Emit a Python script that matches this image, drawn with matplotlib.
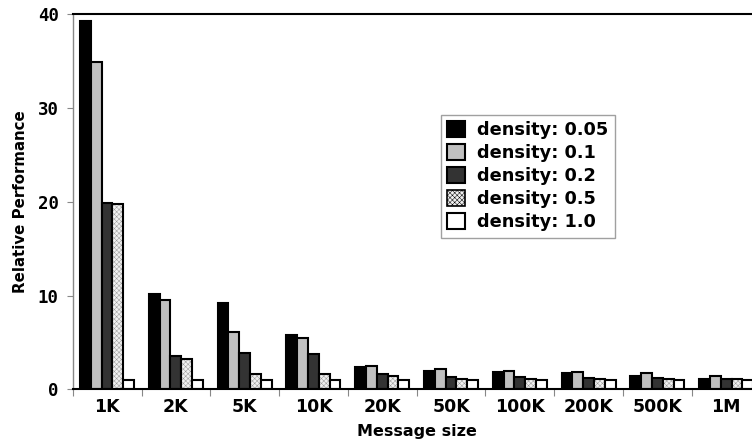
import numpy as np
import matplotlib
matplotlib.use("Agg")
import matplotlib.pyplot as plt
from matplotlib.patches import Patch

sizes = ["1K", "2K", "5K", "10K", "20K", "50K", "100K", "200K", "500K", "1M"]
labels = ["density: 0.05", "density: 0.1", "density: 0.2", "density: 0.5", "density: 1.0"]

d005 = [39.3, 10.2, 9.2, 5.8, 2.4, 2.0, 1.8, 1.7, 1.45, 1.13]
d01 = [34.9, 9.5, 6.1, 5.5, 2.45, 2.13, 2.0, 1.88, 1.77, 1.45]
d02 = [19.9, 3.5, 3.9, 3.8, 1.6, 1.35, 1.3, 1.24, 1.24, 1.13]
d05 = [19.8, 3.2, 1.67, 1.67, 1.45, 1.13, 1.07, 1.07, 1.13, 1.13]
d10 = [1.0, 1.0, 1.0, 1.0, 1.0, 1.0, 1.0, 1.0, 1.0, 1.0]
series = [d005, d01, d02, d05, d10]

faces = ["#000000", "#c0c0c0", "#333333", "#f0f0f0", "#ffffff"]
hatches = [None, None, None, "xxxxxxx", None]

plt.rcParams["hatch.linewidth"] = 0.35
plt.rcParams["hatch.color"] = "#999999"

fig = plt.figure(figsize=(7.52, 4.43), dpi=100)
ax = fig.add_axes([72.7 / 752, (443 - 389.3) / 443, 688 / 752, 375 / 443])

x = np.arange(len(sizes))
bw = 0.157
off0 = 0.106
handles = []
for i, vals in enumerate(series):
    pos = x + off0 + bw * i + bw / 2
    if hatches[i]:
        # hatched fill first, then the black outline on top
        ax.bar(pos, vals, width=bw, color=faces[i], hatch=hatches[i],
               edgecolor="#999999", linewidth=0)
        ax.bar(pos, vals, width=bw, facecolor="none", edgecolor="black", linewidth=1.5)
        handles.append(Patch(facecolor=faces[i], edgecolor="black", hatch=hatches[i],
                             linewidth=1.2))
    else:
        h = ax.bar(pos, vals, width=bw, color=faces[i], edgecolor="black", linewidth=1.5)
        handles.append(h)

ax.set_xlim(0, len(sizes))
ax.set_ylim(0, 40)
ax.set_xticks(x, minor=False)
ax.set_xticks(x + 0.5, minor=True)
ax.set_xticklabels([])
ax.set_xticklabels(sizes, minor=True, fontsize=12.5, fontweight="bold")
ax.tick_params(axis="x", which="major", length=5, color="#888888", direction="out")
ax.tick_params(axis="x", which="minor", length=0, pad=6)
ax.set_yticks([0, 10, 20, 30, 40])
ax.set_yticklabels(["0", "10", "20", "30", "40"], family="DejaVu Sans Mono",
                   fontweight="bold", fontsize=12.5)
ax.tick_params(axis="y", length=4, color="#888888", pad=6)

ax.spines["right"].set_visible(False)
ax.spines["top"].set_linewidth(1.5)
ax.spines["bottom"].set_linewidth(1.5)
ax.spines["left"].set_color("#888888")
ax.spines["left"].set_linewidth(1)

ax.set_ylabel("Relative Performance", fontsize=10.8, fontweight="bold", labelpad=7)
ax.set_xlabel("Message size", fontsize=11.5, fontweight="bold", labelpad=6)

leg = fig.legend(handles, labels, loc="upper left",
                 bbox_to_anchor=(441 / 752, (443 - 115) / 443),
                 prop={"weight": "bold", "size": 12.8}, frameon=True, fancybox=False,
                 handlelength=1.0, handleheight=1.0, handletextpad=0.7,
                 labelspacing=0.28, borderpad=0.35, borderaxespad=0)
leg.get_frame().set_edgecolor("#888888")
leg.get_frame().set_linewidth(1)

fig.savefig("out.png", dpi=100)
